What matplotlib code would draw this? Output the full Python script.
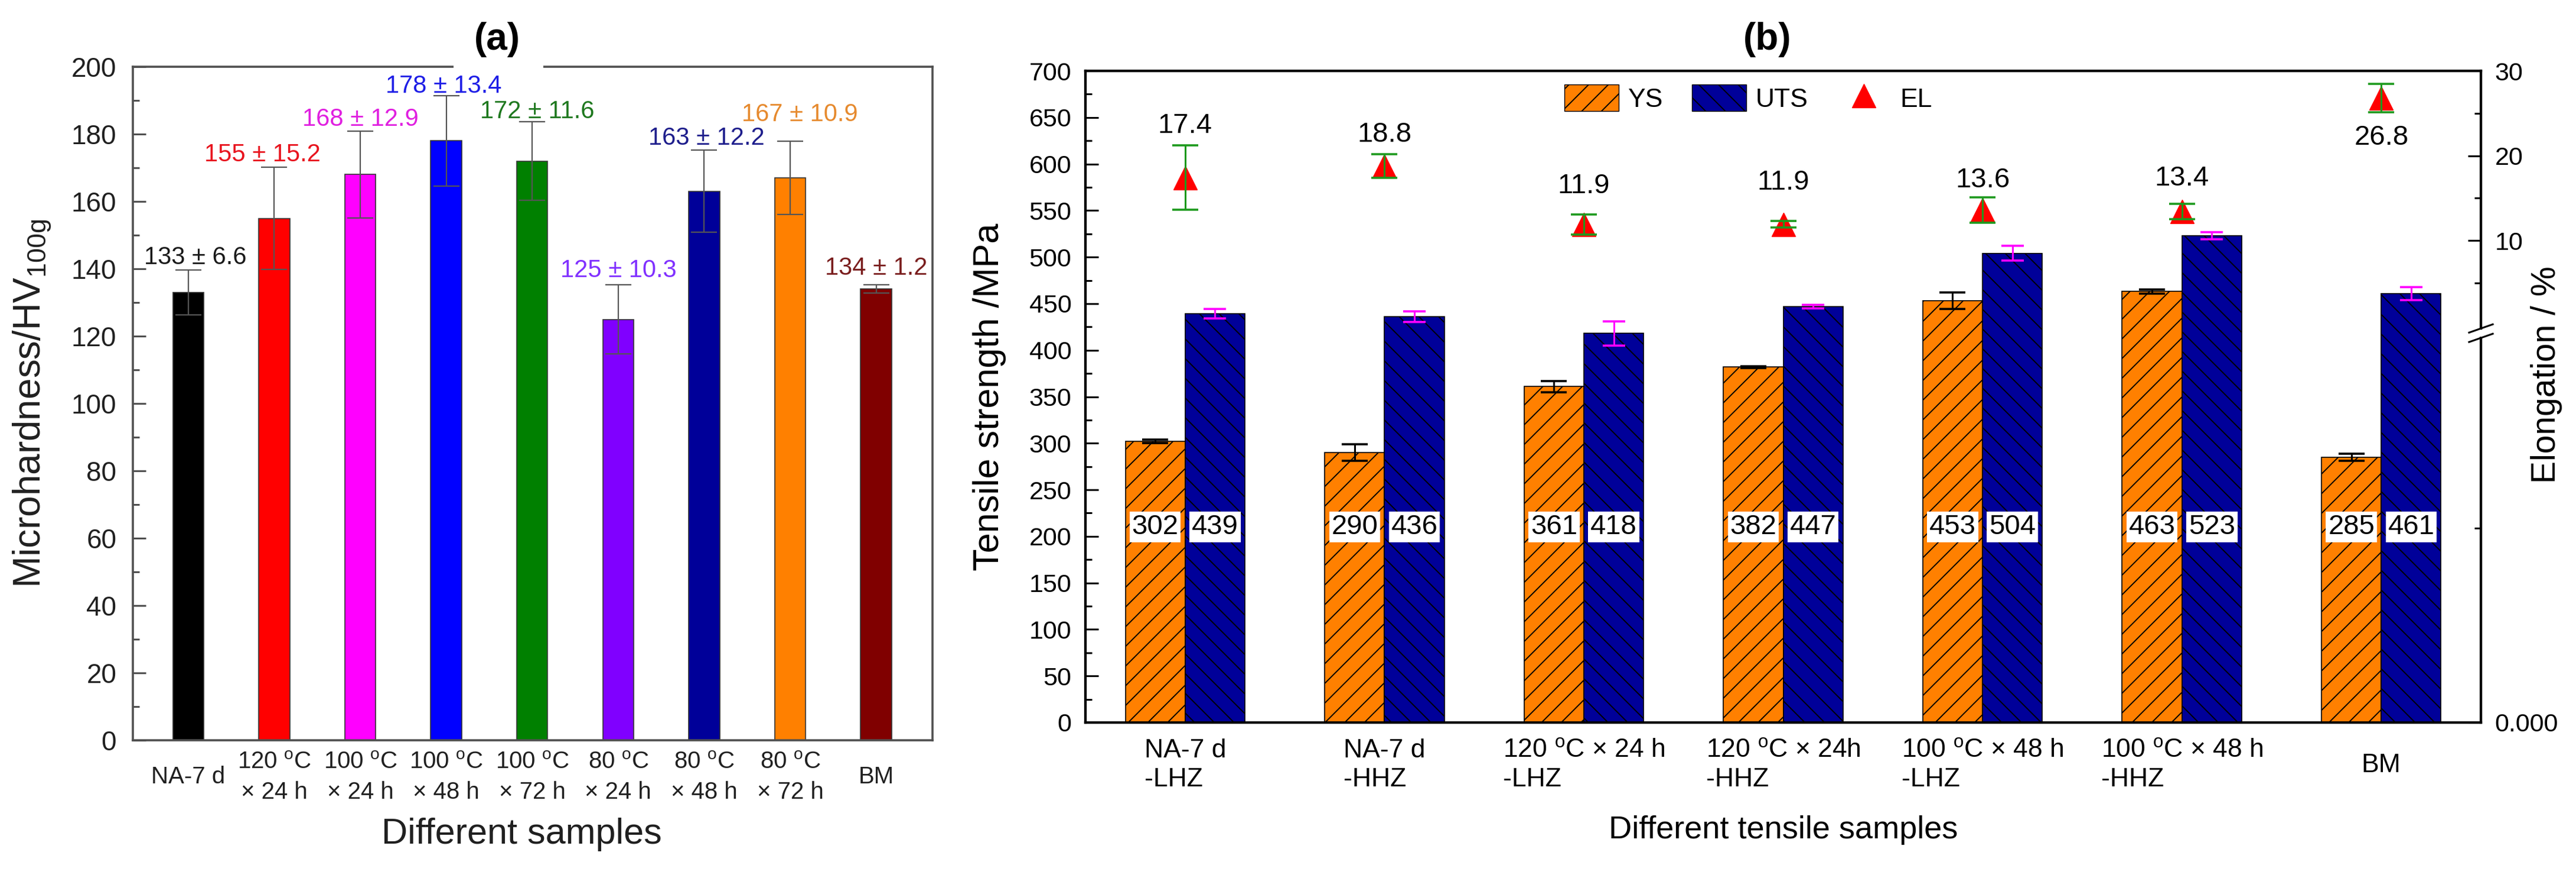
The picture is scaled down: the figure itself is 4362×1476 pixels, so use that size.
import matplotlib
matplotlib.use('Agg')
import matplotlib.pyplot as plt
import numpy as np
from matplotlib.patches import Rectangle, Patch
from matplotlib.lines import Line2D
from matplotlib.ticker import MultipleLocator, FixedLocator, FixedFormatter

plt.rcParams['font.family'] = ['Liberation Sans', 'DejaVu Sans']
plt.rcParams['mathtext.default'] = 'regular'
plt.rcParams['hatch.linewidth'] = 1.4
plt.rcParams['hatch.color'] = 'black'

# ---------------- Panel (a) data ----------------
samples_a = ["NA-7 d", "120 $^{o}$C\n× 24 h", "100 $^{o}$C\n× 24 h", "100 $^{o}$C\n× 48 h",
             "100 $^{o}$C\n× 72 h", "80 $^{o}$C\n× 24 h", "80 $^{o}$C\n× 48 h",
             "80 $^{o}$C\n× 72 h", "BM"]
hardness = [133, 155, 168, 178, 172, 125, 163, 167, 134]
hardness_err = [6.6, 15.2, 12.9, 13.4, 11.6, 10.3, 12.2, 10.9, 1.2]
bar_colors_a = ['#000000', '#FF0000', '#FF00FF', '#0000FF', '#008000',
                '#8000FF', '#000099', '#FF8000', '#800000']
label_colors_a = ['#1a1a1a', '#E8141E', '#E020E0', '#1E1EE6', '#1E781E',
                  '#8030FF', '#1E1E8C', '#E68A2E', '#7A1E1E']
# label placement tweaks (x offset in bar units, y offset above error bar)
lbl_dx_a = [0.08, -0.14, 0.0, -0.03, 0.06, 0.0, 0.03, 0.11, 0.0]
lbl_dy_a = [1.8, 1.8, 1.5, 0.8, 1.2, 2.2, 1.6, 6.0, 3.0]

# ---------------- Panel (b) data ----------------
samples_b = ["NA-7 d\n-LHZ", "NA-7 d\n-HHZ", "120 $^{o}$C × 24 h\n-LHZ",
             "120 $^{o}$C × 24h\n-HHZ", "100 $^{o}$C × 48 h\n-LHZ",
             "100 $^{o}$C × 48 h\n-HHZ", "BM"]
ys = [302, 290, 361, 382, 453, 463, 285]
ys_err = [2, 9, 6, 1, 9, 2, 4]
uts = [439, 436, 418, 447, 504, 523, 461]
uts_err = [5, 6, 13, 2, 8, 4, 7]
el = [17.4, 18.8, 11.9, 11.9, 13.6, 13.4, 26.8]
el_err = [3.8, 1.4, 1.2, 0.4, 1.5, 0.9, 1.7]
el_lbl_off = [6.1, 3.7, 4.5, 4.9, 3.5, 3.9, -4.7]

W, H = 4362, 1476
fig = plt.figure(figsize=(W / 100, H / 100), dpi=100)

# ================= Panel (a) =================
axa = fig.add_axes([225 / W, 1 - 1253 / H, 1354 / W, 1140 / H])
xa = np.arange(len(hardness))
axa.bar(xa, hardness, width=0.36, color=bar_colors_a, edgecolor='#333333',
        linewidth=1.2, zorder=2)
axa.errorbar(xa, hardness, yerr=hardness_err, fmt='none', ecolor='#555555',
             elinewidth=1.6, capsize=16, capthick=1.6, zorder=3)
for i in range(len(hardness)):
    axa.text(xa[i] + lbl_dx_a[i], hardness[i] + hardness_err[i] + lbl_dy_a[i],
             f"{hardness[i]} ± {hardness_err[i]}", ha='center', va='baseline',
             color=label_colors_a[i], fontsize=30, zorder=4)
axa.set_xlim(-0.645, 8.655)
axa.set_ylim(0, 200)
axa.yaxis.set_major_locator(MultipleLocator(20))
axa.yaxis.set_minor_locator(MultipleLocator(10))
axa.tick_params(axis='y', which='both', direction='in', left=True, right=False,
                color='#505050', width=2.2, labelsize=33, pad=20, labelcolor='#202020')
axa.tick_params(axis='y', which='major', length=16)
axa.tick_params(axis='y', which='minor', length=8)
axa.set_xticks(xa, samples_a)
axa.tick_params(axis='x', length=0, labelsize=29, pad=45, labelcolor='#202020')
for t in axa.get_xticklabels():
    t.set_va('center')
    t.set_linespacing(1.45)
for s in axa.spines.values():
    s.set_color('#505050')
    s.set_linewidth(2.6)
axa.add_patch(Rectangle((0.401, 0.989), 0.112, 0.024, transform=axa.transAxes,
                        facecolor='white', edgecolor='none', clip_on=False, zorder=10))
axa.set_ylabel("Microhardness/HV$_{100g}$", fontsize=46, ha='center', va='center',
               color='#202020')
axa.yaxis.set_label_coords(-0.1256, 0.5)
axa.set_xlabel("Different samples", fontsize=44, ha='center', va='center', color='#202020')
axa.xaxis.set_label_coords(0.486, -0.140)
fig.text(842 / W, 1 - 67 / H, "(a)", ha='center', va='center', fontsize=46,
         fontweight='bold')

# ================= Panel (b) =================
axb = fig.add_axes([1838 / W, 1 - 1223 / H, 2363 / W, 1103 / H])
xb = np.arange(len(ys))
w = 0.30
axb.bar(xb - w / 2, ys, w, color='#FF8000', edgecolor='black', hatch='/',
        linewidth=1.2, zorder=2)
axb.bar(xb + w / 2, uts, w, color='#000099', edgecolor='black', hatch='\\',
        linewidth=1.2, zorder=2)
axb.errorbar(xb - w / 2, ys, yerr=ys_err, fmt='none', ecolor='black',
             elinewidth=2.2, capsize=16, capthick=2.6, zorder=3)
axb.errorbar(xb + w / 2, uts, yerr=uts_err, fmt='none', ecolor='#FF00FF',
             elinewidth=2.2, capsize=14, capthick=2.6, zorder=3)
box = dict(boxstyle='square,pad=0.08', facecolor='white', edgecolor='none')
for i in range(len(ys)):
    axb.text(xb[i] - w / 2, 210, str(ys[i]), ha='center', va='center',
             fontsize=34, bbox=box, zorder=4)
    axb.text(xb[i] + w / 2, 210, str(uts[i]), ha='center', va='center',
             fontsize=34, bbox=box, zorder=4)
axb.set_xlim(-0.5, 6.5)
axb.set_ylim(0, 700)
axb.yaxis.set_major_locator(MultipleLocator(50))
axb.yaxis.set_minor_locator(MultipleLocator(25))
axb.tick_params(axis='y', which='both', direction='in', left=True, right=False,
                width=2.2, labelsize=31, pad=17)
axb.tick_params(axis='y', which='major', length=16)
axb.tick_params(axis='y', which='minor', length=8)
axb.set_xticks(xb, samples_b)
axb.tick_params(axis='x', length=0, labelsize=32, pad=52)
for t in axb.get_xticklabels():
    t.set_va('center')
    t.set_multialignment('left')
    t.set_linespacing(1.25)
for s in axb.spines.values():
    s.set_linewidth(3.0)
axb.set_ylabel("Tensile strength /MPa", fontsize=44, ha='center', va='center')
axb.yaxis.set_label_coords(-0.0686, 0.5)
axb.set_xlabel("Different tensile samples", fontsize=39, ha='center', va='center')
axb.xaxis.set_label_coords(0.5, -0.165)

# right axis (elongation) with break
axr = axb.twinx()
el_bottom = -46.86
axr.set_ylim(el_bottom, 30)
axr.plot(xb, el, ls='none', marker='^', color='red', ms=29, zorder=4)
axr.errorbar(xb, el, yerr=el_err, fmt='none', ecolor='#1E9A1E', elinewidth=2.2,
             capsize=16, capthick=2.6, zorder=5)
for i in range(len(el)):
    axr.text(xb[i], el[i] + el_lbl_off[i], f"{el[i]}", ha='center', va='center',
             fontsize=34, zorder=6)
axr.yaxis.set_major_locator(FixedLocator([el_bottom, 10, 20, 30]))
axr.yaxis.set_major_formatter(FixedFormatter(["0.000", "10", "20", "30"]))
axr.yaxis.set_minor_locator(FixedLocator([5, 15, 25, (el_bottom - 0.94) / 2]))
axr.tick_params(axis='y', which='both', direction='in', width=2.2, labelsize=31, pad=17)
axr.tick_params(axis='y', which='major', length=16)
axr.tick_params(axis='y', which='minor', length=8)
for s in axr.spines.values():
    s.set_linewidth(3.0)
axr.set_ylabel("Elongation / %", fontsize=41, ha='center', va='center', rotation=90)
axr.yaxis.set_label_coords(1.047, 0.534)

# axis break marker
yb = 0.5975
axr.add_patch(Rectangle((1 - 0.006, yb - 6 / 1103), 0.012, 12 / 1103,
                        transform=axr.transAxes, facecolor='white', edgecolor='none',
                        clip_on=False, zorder=10))
for off in (-8, 8):
    axr.plot([1 - 0.0085, 1 + 0.0085], [yb + (off - 7) / 1103, yb + (off + 7) / 1103],
             transform=axr.transAxes, color='black', lw=2.2, clip_on=False, zorder=11)

handles = [Patch(facecolor='#FF8000', edgecolor='black', hatch='/', label='YS'),
           Patch(facecolor='#000099', edgecolor='black', hatch='\\', label='UTS'),
           Line2D([], [], marker='^', color='red', ls='none', ms=29, label='EL')]
axr.legend(handles=handles, loc='center', bbox_to_anchor=(0.475, 0.958), ncol=3,
           frameon=False, fontsize=32, handlelength=2.07, handleheight=1.2,
           handletextpad=0.35, columnspacing=1.1)

fig.text(2993 / W, 1 - 67 / H, "(b)", ha='center', va='center', fontsize=46,
         fontweight='bold')

fig.savefig("out.png", dpi=100)
